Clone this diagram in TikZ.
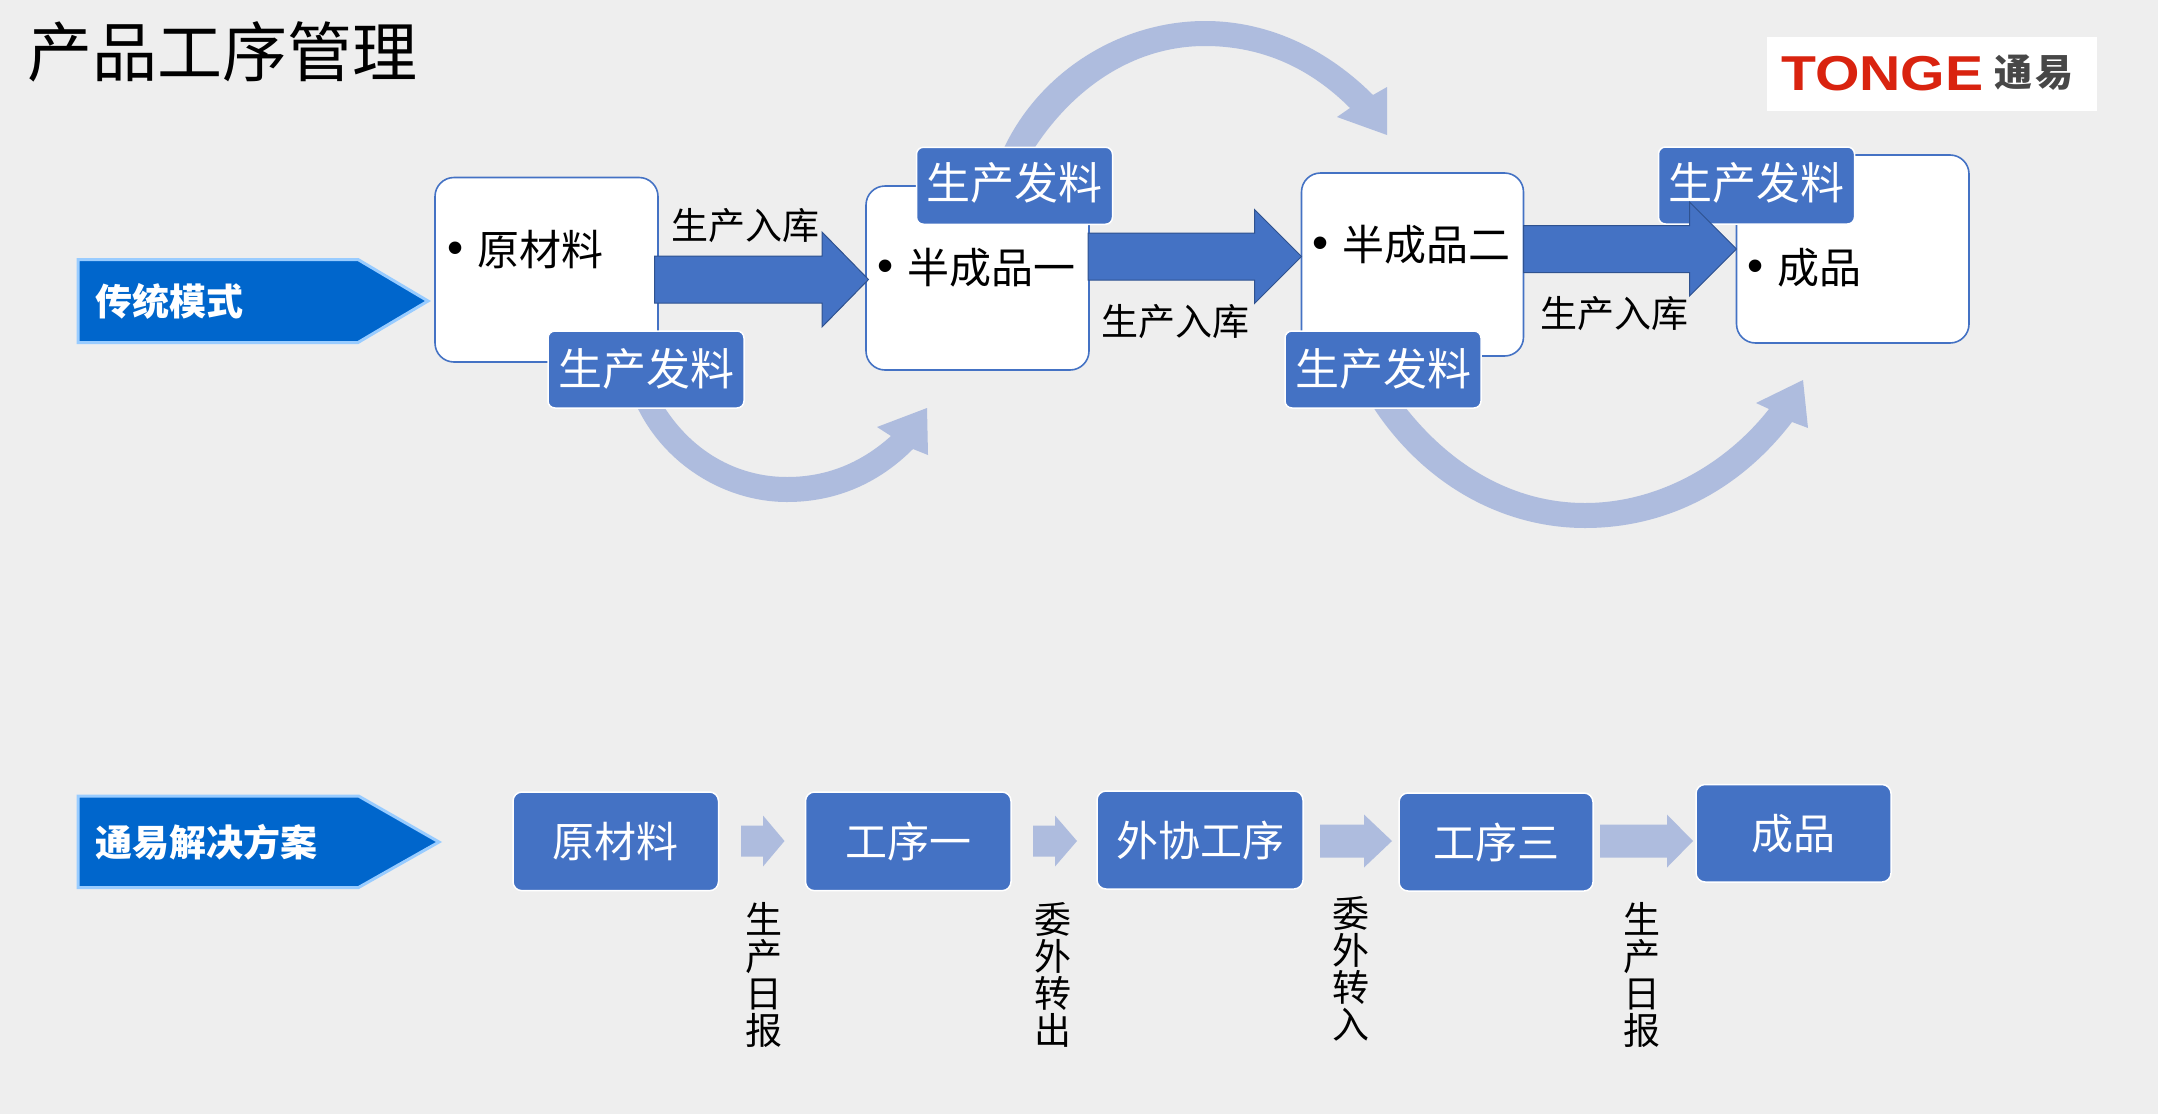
\documentclass[tikz,border=0pt]{standalone}
\usepackage{fontspec}
\setmainfont{Noto Sans CJK SC}
\newfontfamily\latinb{Liberation Sans}
\definecolor{bgc}{HTML}{EEEEEE}
\definecolor{acc}{HTML}{4472C4}
\definecolor{accd}{HTML}{2F528F}
\definecolor{lite}{HTML}{AEBCDE}
\definecolor{chev}{HTML}{0066CC}
\definecolor{chevb}{HTML}{99CCFF}
\definecolor{logored}{HTML}{D9230F}
\newcommand{\fsz}[1]{\fontsize{#1}{#1}\selectfont}
\newcommand{\bul}[1]{\makebox[30pt][l]{\raisebox{2pt}{\latinb\fsz{46}•}}#1}
\newcommand{\up}[2]{\raisebox{#1pt}{#2}}
\newcommand{\blockarrow}[6]{% style, from, to, shaft half, head half, head length
  \draw[#1] let \p1=(#2),\p2=(#3) in
    (\x1,{\y1+#4pt}) -- ({\x2-#6pt},{\y1+#4pt}) -- ({\x2-#6pt},{\y1+#5pt}) -- (\x2,\y1)
    -- ({\x2-#6pt},{\y1-#5pt}) -- ({\x2-#6pt},{\y1-#4pt}) -- (\x1,{\y1-#4pt}) -- cycle;}
\usetikzlibrary{calc}
\tikzset{
  box/.style={draw=acc,fill=white,line width=1.6pt,rounded corners=19pt,inner sep=0,outer sep=0},
  tag/.style={draw=white,fill=acc,line width=1.5pt,rounded corners=7pt,inner sep=0,outer sep=0,minimum width=196,minimum height=77,text=white,font=\fsz{44}},
  lbox/.style={draw=white,fill=acc,line width=1.5pt,rounded corners=9pt,inner sep=0,outer sep=0,text=white,font=\fsz{42}},
  lab/.style={inner sep=0,font=\fsz{37},text=black},
  itemtxt/.style={inner sep=0,anchor=west,font=\fsz{42},text=black},
  vlab/.style={inner sep=0,font=\fsz{37},align=center,text=black},
  chevtxt/.style={inner sep=0,anchor=west,font=\fsz{37}\bfseries,text=white},
  chevshape/.style={fill=chev,draw=chevb,line width=3pt,line join=miter},
  bigarrow/.style={fill=acc,draw=accd,line width=1pt,line join=miter},
  smallarrow/.style={fill=lite,draw=none},
  curve/.style={fill=lite,draw=none},
}
\begin{document}
\begin{tikzpicture}[x=1pt,y=-1pt]
\useasboundingbox (0,0) rectangle (2158,1114);
\fill[bgc] (0,0) rectangle (2158,1114);
% title
\node[inner sep=0,anchor=west,font=\fsz{65},text=black] (title) at (27,52) {产品工序管理};
% logo
\node[fill=white,inner sep=0,minimum width=330,minimum height=74] (logo) at (1932,74) {};
\node[inner sep=0,anchor=west,text=logored,font=\latinb\bfseries\fsz{49}] (logoa) at (1781,74) {\scalebox{1.167}[1]{TONGE}};
\node[inner sep=0,anchor=west,text=black!72,font=\fsz{38}\bfseries] (logob) at (1994,73) {通\hspace{3pt}易};
% curved arrows under the tags
\fill[curve] (1003,150) .. controls (1040,70) and (1122,21) .. (1205,21)
  .. controls (1272,21) and (1330,52) .. (1373,95) -- (1387,87) -- (1387,135) -- (1337,117) -- (1350,108)
  .. controls (1310,68) and (1262,46) .. (1205,46)
  .. controls (1132,46) and (1070,90) .. (1030,155) -- cycle;
\fill[curve] (634,400) .. controls (660,462) and (723,502) .. (787,502)
  .. controls (838,502) and (880,482) .. (913,449) -- (928,455) -- (927,408) -- (877,427) -- (891,436)
  .. controls (862,462) and (828,477) .. (787,477)
  .. controls (738,477) and (690,452) .. (660,400) -- cycle;
\fill[curve] (1373,407) .. controls (1424,485) and (1503,528) .. (1585,528)
  .. controls (1667,528) and (1740,490) .. (1792,422) -- (1808,428) -- (1803,380) -- (1756,403) -- (1769,409)
  .. controls (1725,465) and (1657,503) .. (1585,503)
  .. controls (1513,503) and (1449,465) .. (1402,403) -- cycle;
% chevrons
\draw[chevshape] (78,259.5) -- (358,259.5) -- (428,301) -- (358,342.5) -- (78,342.5) -- cycle;
\node[chevtxt] (c1) at (95,301) {传统模式};
\draw[chevshape] (78,796) -- (358.5,796) -- (439,842) -- (358.5,887.5) -- (78,887.5) -- cycle;
\node[chevtxt] (c2) at (95,842) {通易解决方案};
% white boxes
\node[box,minimum width=223,minimum height=184.5] (b1) at (546.5,269.75) {};
\node[box,minimum width=223,minimum height=184] (b2) at (977.5,278) {};
\node[box,minimum width=222,minimum height=183] (b3) at (1412.5,264.5) {};
\node[box,minimum width=232.5,minimum height=188] (b4) at (1852.75,249) {};
\node[itemtxt] (t1) at (447,250) {\bul{原材料}};
\node[itemtxt] (t2) at (877,268) {\bul{半成品一}};
\node[itemtxt] (t3) at (1312,245) {\bul{半成品二}};
\node[itemtxt] (t4) at (1747,268) {\bul{成品}};
% tags
\node[tag] (g1) at (646,369.5) {\up{5}{生产发料}};
\node[tag] (g2) at (1014.5,185.75) {\up{9}{生产发料}};
\node[tag] (g3) at (1383,369.5) {\up{5}{生产发料}};
\node[tag] (g4) at (1756.5,185.5) {\up{9}{生产发料}};
% block arrows
\coordinate (a1s) at (654.5,279.5);
\coordinate (a2s) at (1088,256.5);
\coordinate (a3s) at (1523.6,249);
\path (b2.west) ++(2.5,0) coordinate (a1t);
\blockarrow{bigarrow}{a1s}{a1t}{23.5}{47.5}{46.5}
\blockarrow{bigarrow}{a2s}{b3.west}{23.5}{47}{47}
\blockarrow{bigarrow}{a3s}{b4.west}{23.5}{47}{47}
\node[lab] (p1) at (745,226) {生产入库};
\node[lab] (p2) at (1175,322) {生产入库};
\node[lab] (p3) at (1614,314) {生产入库};
% lower row
\node[lbox,minimum width=205.5,minimum height=98.7] (l1) at (615.75,841.35) {\up{3}{原材料}};
\node[lbox,minimum width=205.5,minimum height=98.7] (l2) at (908.25,841.35) {\up{3}{工序一}};
\node[lbox,minimum width=206,minimum height=98] (l3) at (1200,840) {\up{3}{外协工序}};
\node[lbox,minimum width=194,minimum height=98] (l4) at (1496,842) {\up{3}{工序三}};
\node[lbox,minimum width=195,minimum height=97.5] (l5) at (1793.5,833.25) {\up{3}{成品}};
\coordinate (s1a) at (741,841); \coordinate (s1b) at (784.5,841);
\coordinate (s2a) at (1033,841); \coordinate (s2b) at (1077,841);
\coordinate (s3a) at (1320,841); \coordinate (s3b) at (1392,841);
\coordinate (s4a) at (1600,841); \coordinate (s4b) at (1693,841);
\blockarrow{smallarrow}{s1a}{s1b}{15.5}{25.5}{21.5}
\blockarrow{smallarrow}{s2a}{s2b}{15.5}{25.5}{22}
\blockarrow{smallarrow}{s3a}{s3b}{16.5}{26.5}{28}
\blockarrow{smallarrow}{s4a}{s4b}{16.5}{26.5}{26}
\node[vlab] (v1) at (764,975) {生\\产\\日\\报};
\node[vlab] (v2) at (1053,975) {委\\外\\转\\出};
\node[vlab] (v3) at (1351,969) {委\\外\\转\\入};
\node[vlab] (v4) at (1642,975) {生\\产\\日\\报};
\end{tikzpicture}
\end{document}
